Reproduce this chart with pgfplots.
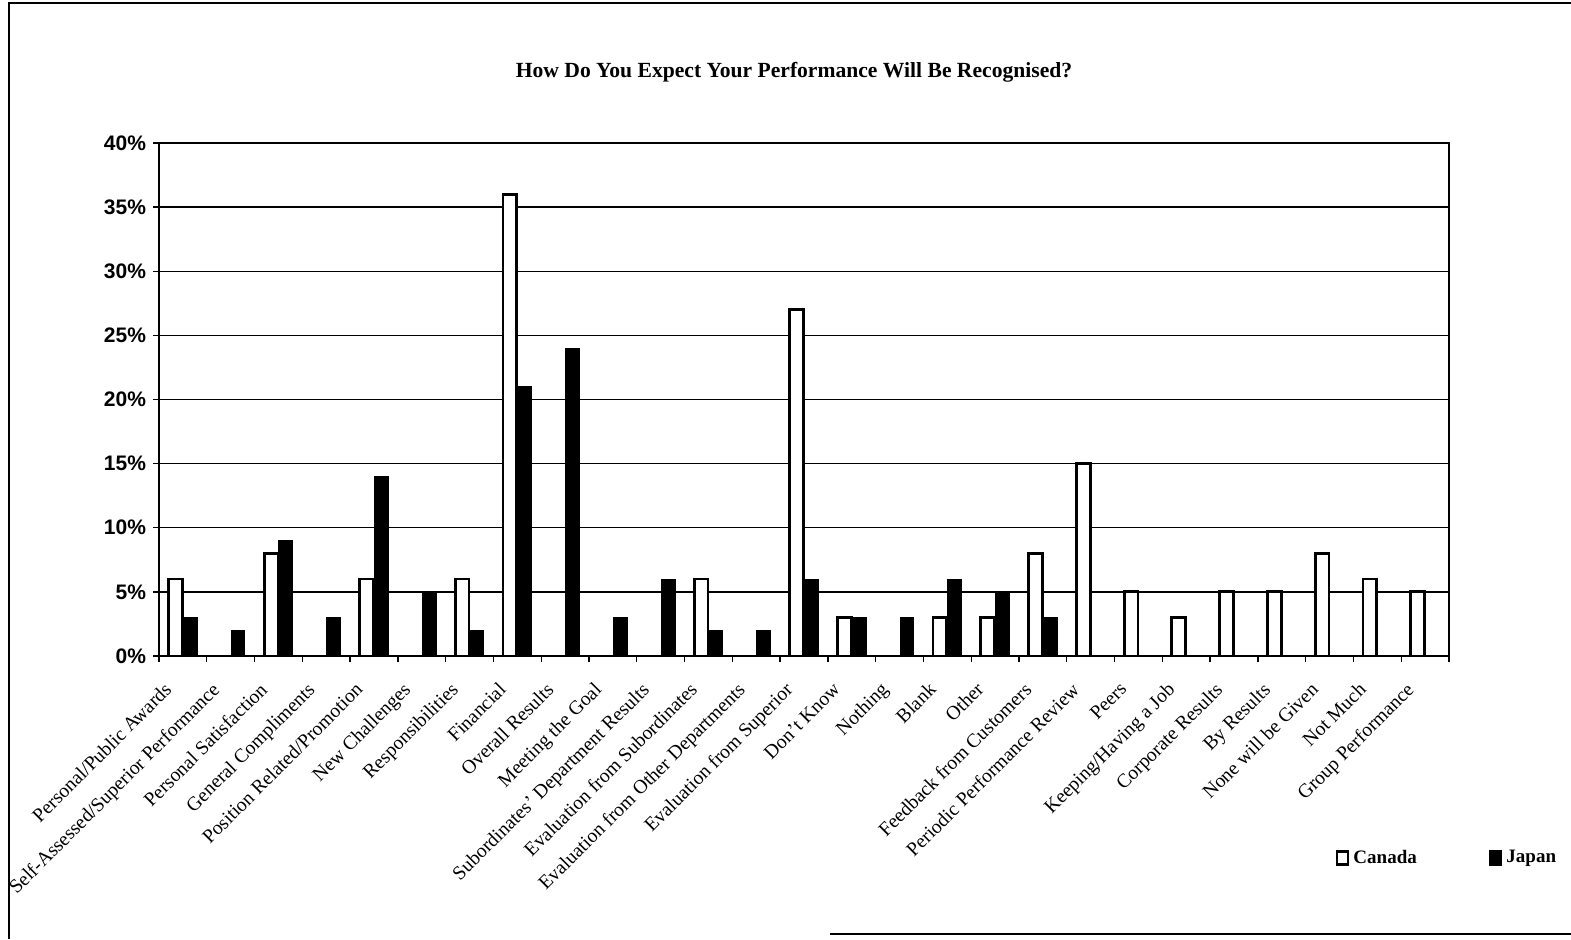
\documentclass[border=0pt]{standalone}
\usepackage{pgfplots}
\pgfplotsset{compat=1.18}
\usepackage{fontspec}
\setmainfont{Liberation Serif}
\newfontfamily\arialfont{Liberation Sans}
\begin{document}
\begin{tikzpicture}
\path[use as bounding box] (0,0) rectangle (785.5pt,-469.5pt);
\draw[line width=1.1pt] (4.5pt,-469.5pt) -- (4.5pt,-1.5pt) -- (785.5pt,-1.5pt);
\draw[line width=0.7pt] (415pt,-467pt) -- (785.5pt,-467pt);
\node[font=\bfseries\fontsize{10.8}{13}\selectfont] at (397pt,-36pt) {How Do You Expect Your Performance Will Be Recognised?};
\begin{axis}[
  at={(79.5pt,-328pt)}, anchor=south west,
  width=645pt, height=256.5pt, scale only axis,
  xmin=-0.5, xmax=26.5, ymin=0, ymax=40,
  ybar, bar width=0.29,
  axis line style={line width=1pt},
  ytick={0,5,...,40},
  yticklabel={\pgfmathprintnumber[assume math mode=true]{\tick}\%},
  yticklabel style={font=\arialfont\bfseries\fontsize{10.5}{12}\selectfont},
  ymajorgrids, grid style={black, line width=0.7pt},
  tick align=outside, major tick length=3pt, minor tick length=3pt,
  tick style={black, line width=0.7pt},
  xtick pos=bottom, ytick pos=left,
  xtick={0,...,26},
  minor xtick={-0.5,0.5,...,26.5},
  major x tick style={draw=none},
  xticklabels={Personal/Public Awards, Self-Assessed/Superior Performance, Personal Satisfaction, General Compliments, Position Related/Promotion, New Challenges, Responsibilities, Financial, Overall Results, Meeting the Goal, Subordinates' Department Results, Evaluation from Subordinates, Evaluation from Other Departments, Evaluation from Superior, Don't Know, Nothing, Blank, Other, Feedback from Customers, Periodic Performance Review, Peers, Keeping/Having a Job, Corporate Results, By Results, None will be Given, Not Much, Group Performance},
  x tick label style={xshift=-10pt, yshift=-8pt, rotate=45, anchor=north east, font=\fontsize{9.8}{11}\selectfont, inner sep=1pt},
  legend style={at={(0.912,-0.394)}, anchor=west, draw=none, fill=none, legend columns=2,
    font=\bfseries\fontsize{9.5}{11}\selectfont, inner sep=0pt,
    /tikz/every even column/.style={column sep=34pt}},
  legend image code/.code={\draw[#1,line width=1.3pt] (0pt,-3.2pt) rectangle (5.5pt,3.2pt);},
]
\addplot[bar shift=-0.155, fill=white, draw=black, line width=1.4pt] coordinates {
 (0,6) (2,8) (4,6) (6,6) (7,36) (11,6) (13,27) (14,3) (16,3) (17,3) (18,8) (19,15)
 (20,5) (21,3) (22,5) (23,5) (24,8) (25,6) (26,5)};
\addlegendentry{Canada}
\addplot[bar shift=0.155, fill=black, draw=black, line width=0.5pt] coordinates {
 (0,3) (1,2) (2,9) (3,3) (4,14) (5,5) (6,2) (7,21) (8,24) (9,3) (10,6) (11,2) (12,2)
 (13,6) (14,3) (15,3) (16,6) (17,5) (18,3)};
\addlegendentry{Japan}
\end{axis}
\end{tikzpicture}
\end{document}
